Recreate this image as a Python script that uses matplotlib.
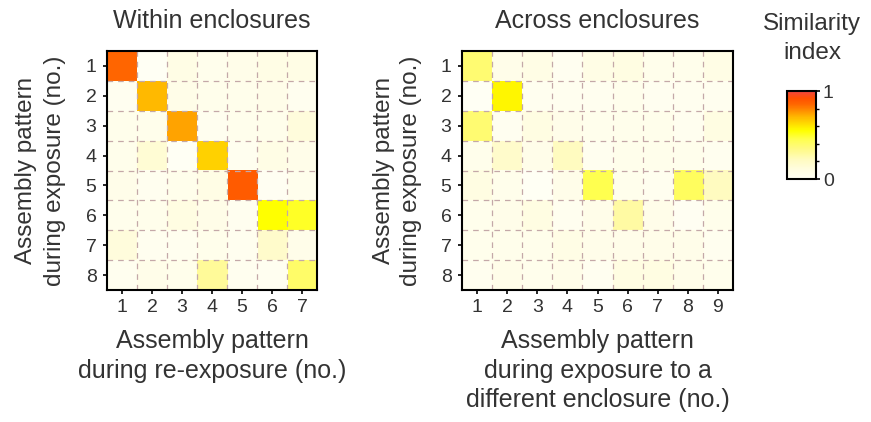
import matplotlib.pyplot as plt
import numpy as np
from matplotlib.colors import LinearSegmentedColormap
from matplotlib.ticker import FixedLocator

plt.rcParams['font.family'] = ['Liberation Sans', 'DejaVu Sans']

# similarity index, rows = pattern during exposure (1..8)
rows = [1, 2, 3, 4, 5, 6, 7, 8]
cols_within = [1, 2, 3, 4, 5, 6, 7]
cols_across = [1, 2, 3, 4, 5, 6, 7, 8, 9]

within = [
    [0.85, 0.00, 0.08, 0.04, 0.06, 0.08, 0.08],
    [0.02, 0.70, 0.07, 0.05, 0.05, 0.06, 0.03],
    [0.05, 0.05, 0.74, 0.03, 0.04, 0.05, 0.12],
    [0.05, 0.15, 0.00, 0.65, 0.03, 0.08, 0.06],
    [0.06, 0.03, 0.05, 0.08, 0.88, 0.01, 0.04],
    [0.04, 0.05, 0.10, 0.07, 0.03, 0.55, 0.50],
    [0.12, 0.03, 0.03, 0.05, 0.03, 0.18, 0.06],
    [0.03, 0.06, 0.05, 0.30, 0.03, 0.02, 0.40],
]

across = [
    [0.38, 0.06, 0.08, 0.02, 0.08, 0.10, 0.05, 0.05, 0.08],
    [0.00, 0.57, 0.03, 0.03, 0.03, 0.04, 0.02, 0.03, 0.03],
    [0.38, 0.02, 0.10, 0.06, 0.04, 0.05, 0.05, 0.03, 0.10],
    [0.05, 0.18, 0.06, 0.22, 0.03, 0.05, 0.05, 0.04, 0.03],
    [0.10, 0.05, 0.00, 0.06, 0.45, 0.04, 0.03, 0.42, 0.22],
    [0.04, 0.06, 0.10, 0.03, 0.06, 0.28, 0.06, 0.01, 0.05],
    [0.04, 0.05, 0.05, 0.08, 0.06, 0.06, 0.06, 0.06, 0.03],
    [0.03, 0.06, 0.04, 0.06, 0.02, 0.10, 0.10, 0.06, 0.04],
]

cmap = LinearSegmentedColormap.from_list("sim", [
    (0.0, '#fffff4'), (0.1, '#fffde2'), (0.22, '#fffbc0'), (0.35, '#fffa80'),
    (0.45, '#ffff50'), (0.55, '#ffff00'), (0.7, '#ffbb00'), (0.85, '#ff6600'),
    (0.92, '#ff5000'), (1.0, '#f04545')])

fig = plt.figure(figsize=(8.71, 4.22), dpi=100)
W, H = 871, 422


def px_axes(x0, y0, x1, y1):
    return fig.add_axes([x0 / W, 1 - y1 / H, (x1 - x0) / W, (y1 - y0) / H])


ax1 = px_axes(107, 51, 317, 290)
ax2 = px_axes(462, 51, 733, 290)
cax = px_axes(787, 91, 816, 179)

TXT = '#333333'


def heat(ax, data, cols, title):
    data = np.array(data)
    im = ax.imshow(data, cmap=cmap, vmin=0, vmax=1, aspect='auto',
                   interpolation='nearest',
                   extent=(0.5, len(cols) + 0.5, len(rows) + 0.5, 0.5))
    ax.set_xticks(cols)
    ax.set_yticks(rows)
    ax.set_xticks(np.arange(1.5, len(cols)), minor=True)
    ax.set_yticks(np.arange(1.5, len(rows)), minor=True)
    ax.grid(which='minor', color='#c4a8a8', linestyle=(0, (4.5, 4)), linewidth=0.9)
    ax.tick_params(which='minor', length=0)
    ax.tick_params(which='major', length=3, width=1.2, direction='out',
                   labelsize=14, labelcolor=TXT)
    ax.tick_params(axis='x', pad=3.5)
    ax.tick_params(axis='y', pad=4.5)
    for s in ax.spines.values():
        s.set_linewidth(1.5)
    ax.set_title(title, fontsize=18, color=TXT, pad=16.5)
    return im


im = heat(ax1, within, cols_within, "Within enclosures")
heat(ax2, across, cols_across, "Across enclosures")

ax1.set_ylabel("Assembly pattern\nduring exposure (no.)", fontsize=17.5,
               color=TXT, linespacing=1.4)
ax1.yaxis.set_label_coords(-0.195, 0.5)
ax2.set_ylabel("Assembly pattern\nduring exposure (no.)", fontsize=17.5,
               color=TXT, linespacing=1.28)
ax2.yaxis.set_label_coords(-0.148, 0.5)

ax1.set_xlabel("Assembly pattern\nduring re-exposure (no.)", fontsize=18,
               color=TXT, linespacing=1.3, va='top')
ax1.xaxis.set_label_coords(0.5, -0.163)
ax2.set_xlabel("Assembly pattern\nduring exposure to a\ndifferent enclosure (no.)",
               fontsize=18, color=TXT, linespacing=1.3, va='top')
ax2.xaxis.set_label_coords(0.5, -0.163)

cb = fig.colorbar(im, cax=cax, ticks=[0, 1])
cb.outline.set_linewidth(1.5)
cax.yaxis.set_minor_locator(FixedLocator([0.2, 0.4, 0.6, 0.8]))
cax.tick_params(which='major', length=3, width=1.2, labelsize=14,
                labelcolor=TXT, pad=2)
cax.tick_params(which='minor', length=2, width=1)

fig.text(812 / W, 1 - 13 / H, "Similarity\nindex", fontsize=17.5, color=TXT,
         ha='center', va='top', linespacing=1.4)

fig.savefig("out.png", dpi=100)
